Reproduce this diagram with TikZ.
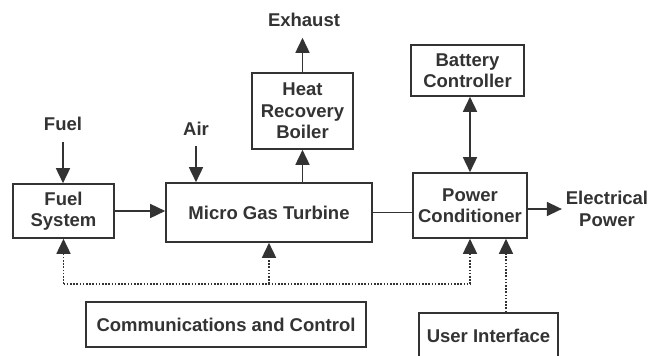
\documentclass[tikz,border=0pt]{standalone}
\usepackage{fontspec}
\setmainfont{Liberation Sans}
\usepackage{xcolor}
\usetikzlibrary{arrows.meta,calc}
\definecolor{ink}{HTML}{333333}

\begin{document}
\begin{tikzpicture}[x=1pt,y=-1pt,>={Triangle[length=15pt,width=14pt]},
  txt/.style={font=\bfseries\fontsize{18.5}{21.5}\selectfont,text=ink,align=center},
  blk/.style={txt,draw=ink,line width=1.6pt,inner sep=0pt},
  lbl/.style={txt,inner sep=0pt,outer sep=11pt},
  link/.style={draw=ink,line width=1.6pt},
  ctl/.style={draw=ink,line width=1.6pt,dash pattern=on 1.6pt off 1.6pt}]
  \useasboundingbox (0,0) rectangle (664,356);
  % blocks
  \node[blk,minimum width=101pt,minimum height=54pt] (fuelsys) at (63.5,211) {Fuel\\System};
  \node[blk,minimum width=206pt,minimum height=59pt] (mgt) at (269,212.5) {Micro Gas Turbine};
  \node[blk,minimum width=101pt,minimum height=76pt] (hrb) at (302.5,111) {Heat\\Recovery\\Boiler};
  \node[blk,minimum width=113pt,minimum height=51pt] (batt) at (467.5,70.5) {Battery\\Controller};
  \node[blk,minimum width=114pt,minimum height=65pt] (pc) at (470,205.5) {Power\\Conditioner};
  \node[blk,minimum width=280pt,minimum height=45pt] (comm) at (226,324.5) {Communications and Control};
  \node[blk,minimum width=139pt,minimum height=46pt] (ui) at (488.5,336) {User Interface};
  % outside labels
  \node[lbl] (fuel) at (63,124) {Fuel};
  \node[lbl] (air) at (196,128.5) {Air};
  \node[lbl] (exh) at (304,20) {Exhaust};
  \node[txt,inner sep=0pt,outer sep=4pt] (elec) at (607,209) {Electrical\\Power};
  % energy flows
  \draw[link,->] (fuel.south) -- (fuel.south |- fuelsys.north);
  \draw[link,->] (air.south) -- (air.south |- mgt.north);
  \draw[link,->] (fuelsys.east) -- (fuelsys.east -| mgt.west);
  \draw[link,->] (hrb.south |- mgt.north) -- (hrb.south);
  \draw[link,->] (hrb.north) -- (hrb.north |- exh.south);
  \draw[link] (mgt.east) -- (mgt.east -| pc.west);
  \draw[link,->] (pc.east |- elec.west) -- (elec.west);
  \draw[link,<->] (pc.north |- batt.south) -- (pc.north);
  % control bus
  \coordinate (bus) at (0,284);
  \draw[ctl] (fuelsys.south |- bus) -- (pc.south |- bus);
  \foreach \n in {fuelsys,mgt,pc} {\draw[ctl,->] (\n.south |- bus) -- (\n.south);}
  \draw[ctl,->] ([xshift=17.5pt]ui.north) -- ([xshift=17.5pt]ui.north |- pc.south);
\end{tikzpicture}
\end{document}
